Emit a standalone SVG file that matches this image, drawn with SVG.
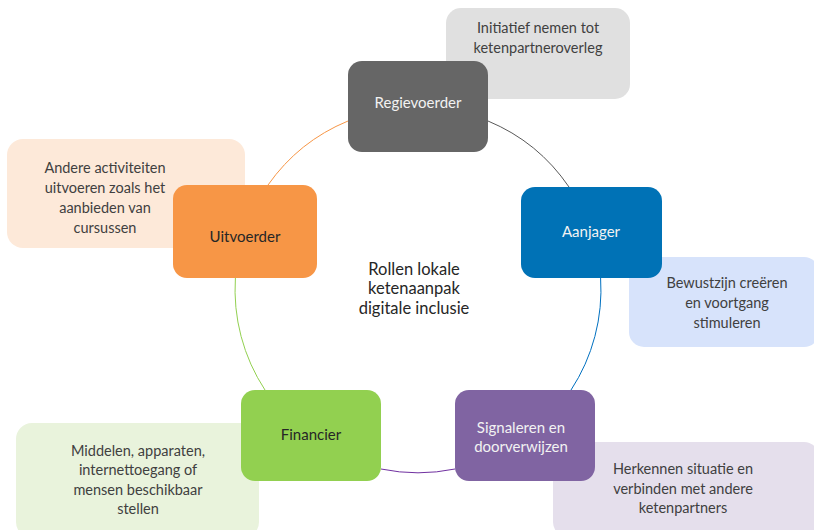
<svg xmlns="http://www.w3.org/2000/svg" width="814" height="530" viewBox="0 0 814 530">
<style>
text{font-family:Lato,"Noto Sans","Liberation Sans",sans-serif;font-size:14.5px;text-anchor:middle;dominant-baseline:central}
.c{fill:#404040}
.b{font-size:15px}
.t{font-size:16.5px;fill:#262626}
.arc{fill:none;stroke-width:1}
</style>
<rect width="814" height="530" fill="#ffffff"/>
<g id="callouts">
<g id="note-regie"><rect x="446" y="8" width="184" height="91" rx="15" fill="#e0e0e0"/>
<text class="c" x="538" y="27">Initiatief nemen tot</text><text class="c" x="538" y="47">ketenpartneroverleg</text></g>
<g id="note-uitvoerder"><rect x="7" y="139" width="238" height="109" rx="16" fill="#fde9d9"/>
<text class="c" x="105" y="167">Andere activiteiten</text><text class="c" x="105" y="187">uitvoeren zoals het</text><text class="c" x="105" y="207">aanbieden van</text><text class="c" x="105" y="227">cursussen</text></g>
<g id="note-aanjager"><rect x="629" y="257" width="190" height="90" rx="15" fill="#d7e3fb"/>
<text class="c" x="727" y="282">Bewustzijn creëren</text><text class="c" x="727" y="302">en voortgang</text><text class="c" x="727" y="322">stimuleren</text></g>
<g id="note-financier"><rect x="16" y="423" width="243" height="115" rx="16" fill="#e9f3dc"/>
<text class="c" x="138" y="450">Middelen, apparaten,</text><text class="c" x="138" y="469">internettoegang of</text><text class="c" x="138" y="489">mensen beschikbaar</text><text class="c" x="138" y="508">stellen</text></g>
<g id="note-signaleren"><rect x="553" y="442" width="266" height="95" rx="15" fill="#e5dfec"/>
<text class="c" x="683" y="468">Herkennen situatie en</text><text class="c" x="683" y="488">verbinden met andere</text><text class="c" x="683" y="507">ketenpartners</text></g>
</g>
<g id="connectors">
<path class="arc" stroke="#f79646" d="M268,185 A183,183 0 0 1 348,121"/>
<path class="arc" stroke="#595959" d="M488,121 A183,183 0 0 1 569,187"/>
<path class="arc" stroke="#0070c0" d="M600.6,278 A183,183 0 0 1 571,390"/>
<path class="arc" stroke="#7030a0" d="M455,469 A183,183 0 0 1 381,469"/>
<path class="arc" stroke="#92d050" d="M265,390 A183,183 0 0 1 235.4,278"/>
</g>
<g id="center-title"><text class="t" x="414" y="269">Rollen lokale</text><text class="t" x="414" y="288">ketenaanpak</text><text class="t" x="414" y="308">digitale inclusie</text></g>
<g id="regievoerder"><rect x="348" y="61" width="140" height="91" rx="14" fill="#666666"/><text class="b" x="418" y="102" fill="#f2f2f2">Regievoerder</text></g>
<g id="aanjager"><rect x="521" y="187" width="141" height="91" rx="14" fill="#0072b6"/><text class="b" x="591" y="231" fill="#f2f2f2">Aanjager</text></g>
<g id="signaleren"><rect x="455" y="390" width="140" height="91" rx="14" fill="#8064a2"/><text class="b" x="521" y="427" fill="#f2f2f2">Signaleren en</text><text class="b" x="521" y="446" fill="#f2f2f2">doorverwijzen</text></g>
<g id="financier"><rect x="241" y="390" width="140" height="91" rx="14" fill="#92d050"/><text class="b" x="311" y="434" fill="#262626">Financier</text></g>
<g id="uitvoerder"><rect x="173" y="185" width="144" height="93" rx="14" fill="#f79646"/><text class="b" x="245" y="236" fill="#262626">Uitvoerder</text></g>
</svg>
